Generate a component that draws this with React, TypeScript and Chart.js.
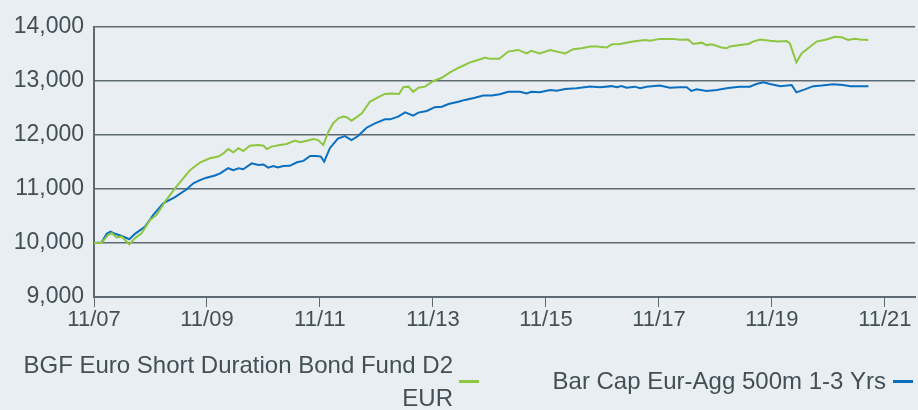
import React, { useEffect, useRef } from "react";
import { Chart, registerables } from "chart.js";

Chart.register(...registerables);

// months since Nov 2007
const fundMonths = [0, 1.6, 3.0, 3.8, 4.8, 5.9, 7.5, 8.7, 10.1, 11.9, 13.3, 15.1, 17.2, 19.0, 20.4, 22.5, 24.6, 26.4, 27.5, 28.5, 29.6, 30.7, 31.7, 33.1, 34.9, 36.0, 36.7, 37.7, 39.5, 40.9, 42.7, 43.8, 45.2, 46.6, 47.6, 48.7, 49.8, 50.8, 51.9, 53.0, 53.7, 54.7, 55.8, 56.9, 58.6, 60.4, 61.8, 63.2, 64.8, 65.7, 66.8, 67.8, 68.9, 70.3, 72.1, 73.9, 75.6, 77.7, 79.9, 81.6, 83.1, 84.1, 86.1, 88.0, 90.1, 91.9, 92.9, 94.7, 96.9, 100.1, 101.8, 103.6, 105.4, 106.8, 108.9, 110.0, 111.7, 114.5, 117.0, 118.1, 120.2, 123.0, 124.4, 126.2, 127.3, 129.1, 130.1, 131.2, 133.3, 134.4, 135.1, 137.2, 139.0, 140.0, 141.5, 143.6, 145.3, 147.1, 147.8, 149.2, 150.3, 151.7, 153.5, 155.6, 157.4, 158.8, 160.2, 161.6, 162.7, 164.5];
const fundValues = [10000, 10000, 10150, 10180, 10105, 10120, 9975, 10090, 10180, 10425, 10520, 10765, 11010, 11200, 11350, 11490, 11570, 11600, 11660, 11740, 11680, 11755, 11705, 11800, 11815, 11800, 11740, 11785, 11815, 11835, 11895, 11865, 11895, 11925, 11905, 11815, 12060, 12215, 12310, 12340, 12330, 12265, 12330, 12400, 12615, 12700, 12760, 12770, 12760, 12885, 12895, 12800, 12875, 12895, 13000, 13060, 13160, 13255, 13345, 13390, 13435, 13410, 13410, 13545, 13575, 13510, 13560, 13510, 13575, 13510, 13590, 13605, 13640, 13640, 13620, 13680, 13685, 13730, 13760, 13745, 13780, 13780, 13765, 13770, 13685, 13710, 13665, 13680, 13620, 13605, 13640, 13665, 13685, 13730, 13770, 13745, 13730, 13740, 13700, 13345, 13510, 13605, 13730, 13770, 13820, 13810, 13760, 13780, 13770, 13760];

const benchMonths = [0, 1.6, 2.7, 3.5, 4.5, 5.9, 7.5, 8.7, 10.8, 12.6, 14.7, 17.2, 19.7, 21.1, 22.5, 23.9, 25.7, 26.8, 28.5, 29.6, 30.7, 31.7, 33.5, 34.9, 36.0, 37.0, 38.1, 39.1, 40.2, 41.6, 43.1, 44.5, 45.9, 47.3, 48.2, 48.9, 50.1, 51.8, 53.3, 54.7, 56.1, 57.9, 59.7, 61.8, 62.9, 64.6, 66.1, 67.8, 68.9, 70.7, 72.4, 73.9, 75.3, 77.4, 78.8, 80.9, 82.7, 84.5, 86.2, 88.0, 90.5, 91.9, 92.9, 94.7, 96.9, 98.3, 100.1, 102.5, 105.4, 107.5, 110.0, 111.0, 112.1, 113.1, 114.9, 116.0, 117.4, 120.2, 122.3, 124.4, 125.9, 126.9, 128.0, 130.1, 132.3, 134.7, 137.2, 139.3, 140.7, 142.2, 143.6, 145.8, 148.2, 149.2, 151.0, 152.8, 154.6, 157.0, 159.1, 160.7, 164.5];
const benchValues = [10000, 10010, 10170, 10210, 10170, 10130, 10070, 10170, 10300, 10520, 10735, 10850, 10995, 11105, 11165, 11210, 11250, 11290, 11385, 11350, 11385, 11365, 11475, 11445, 11455, 11395, 11425, 11400, 11425, 11430, 11495, 11520, 11610, 11610, 11600, 11505, 11755, 11935, 11980, 11905, 11980, 12135, 12215, 12290, 12290, 12340, 12420, 12360, 12415, 12445, 12515, 12525, 12575, 12615, 12650, 12690, 12730, 12730, 12755, 12800, 12800, 12770, 12800, 12790, 12835, 12820, 12850, 12865, 12900, 12885, 12905, 12885, 12905, 12875, 12895, 12865, 12895, 12915, 12875, 12885, 12885, 12815, 12845, 12815, 12835, 12870, 12895, 12895, 12945, 12975, 12945, 12905, 12925, 12790, 12845, 12905, 12915, 12940, 12925, 12905, 12905];

const xTickMonths = [0, 24, 48, 72, 96, 120, 144, 168];
const xTickLabels = ["11/07", "11/09", "11/11", "11/13", "11/15", "11/17", "11/19", "11/21"];
const yTicks = [9000, 10000, 11000, 12000, 13000, 14000];

const fundLabel = "BGF Euro Short Duration Bond Fund D2 EUR";
const benchLabel = "Bar Cap Eur-Agg 500m 1-3 Yrs";

const BG = "#e9eef2";
const TEXT = "#434f56";
const GRID = "#5e6a71";
const GREEN = "#8dc63f";
const BLUE = "#0b6fc0";
const FONT = "'Liberation Sans', Arial, sans-serif";

export default function App() {
  const ref = useRef<HTMLCanvasElement | null>(null);

  useEffect(() => {
    document.body.style.margin = "0";
    document.body.style.background = BG;
    const canvas = ref.current;
    if (!canvas) return;

    const bgPlugin = {
      id: "bg",
      beforeDraw(chart: any) {
        const ctx = chart.ctx;
        ctx.save();
        ctx.fillStyle = BG;
        ctx.fillRect(0, 0, chart.width, chart.height);
        ctx.restore();
      },
    };

    const legendPlugin = {
      id: "customLegend",
      afterDraw(chart: any) {
        const ctx = chart.ctx;
        const ds = chart.data.datasets;
        ctx.save();
        ctx.font = `24px ${FONT}`;
        ctx.fillStyle = TEXT;
        ctx.textAlign = "right";
        ctx.textBaseline = "middle";
        // item 1: two lines, right aligned
        const l1 = String(ds[0].label);
        const idx = l1.lastIndexOf(" ");
        ctx.fillText(l1.slice(0, idx), 453, 366);
        ctx.fillText(l1.slice(idx + 1), 453, 399);
        ctx.fillStyle = ds[0].borderColor;
        ctx.fillRect(459, 380, 20, 3);
        // item 2
        ctx.fillStyle = TEXT;
        ctx.fillText(String(ds[1].label), 886, 382);
        ctx.fillStyle = ds[1].borderColor;
        ctx.fillRect(893, 380, 20, 3);
        ctx.restore();
      },
    };

    const chart = new Chart(canvas, {
      type: "line",
      data: {
        datasets: [
          {
            label: fundLabel,
            data: fundMonths.map((m, i) => ({ x: m, y: fundValues[i] })),
            borderColor: GREEN,
            backgroundColor: GREEN,
            borderWidth: 2,
            pointRadius: 0,
            tension: 0,
          },
          {
            label: benchLabel,
            data: benchMonths.map((m, i) => ({ x: m, y: benchValues[i] })),
            borderColor: BLUE,
            backgroundColor: BLUE,
            borderWidth: 2,
            pointRadius: 0,
            tension: 0,
          },
        ],
      },
      options: {
        responsive: false,
        animation: false,
        devicePixelRatio: 1,
        layout: { padding: { top: 27, right: 3, bottom: 73, left: 0 } },
        plugins: {
          legend: { display: false },
          tooltip: { enabled: false },
        },
        scales: {
          x: {
            type: "linear",
            min: 0,
            max: 174.4,
            afterBuildTicks: (scale: any) => {
              scale.ticks = xTickMonths.map((v) => ({ value: v }));
            },
            afterFit: (scale: any) => {
              scale.height = 40;
            },
            ticks: {
              autoSkip: false,
              maxRotation: 0,
              padding: 0,
              color: TEXT,
              font: { family: FONT, size: 22 },
              callback: (v: any) => {
                const i = xTickMonths.indexOf(Number(v));
                return i >= 0 ? xTickLabels[i] : "";
              },
            },
            grid: {
              drawOnChartArea: false,
              drawTicks: true,
              tickLength: 10,
              color: GRID,
              lineWidth: 1,
            },
            border: { display: true, color: GRID, width: 2 },
          },
          y: {
            min: 9000,
            max: 14000,
            afterBuildTicks: (scale: any) => {
              scale.ticks = yTicks.map((v) => ({ value: v }));
            },
            afterFit: (scale: any) => {
              scale.width = 94;
            },
            ticks: {
              padding: 10,
              color: TEXT,
              font: { family: FONT, size: 23 },
              callback: (v: any) => Number(v).toLocaleString("en-US"),
            },
            grid: {
              drawTicks: false,
              color: GRID,
              lineWidth: 1.5,
            },
            border: { display: true, color: GRID, width: 2 },
          },
        },
      },
      plugins: [bgPlugin, legendPlugin],
    });

    return () => chart.destroy();
  }, []);

  return (
    <div style={{ width: 918, height: 410, background: BG }}>
      <canvas ref={ref} width={918} height={410} style={{ display: "block" }} />
    </div>
  );
}
